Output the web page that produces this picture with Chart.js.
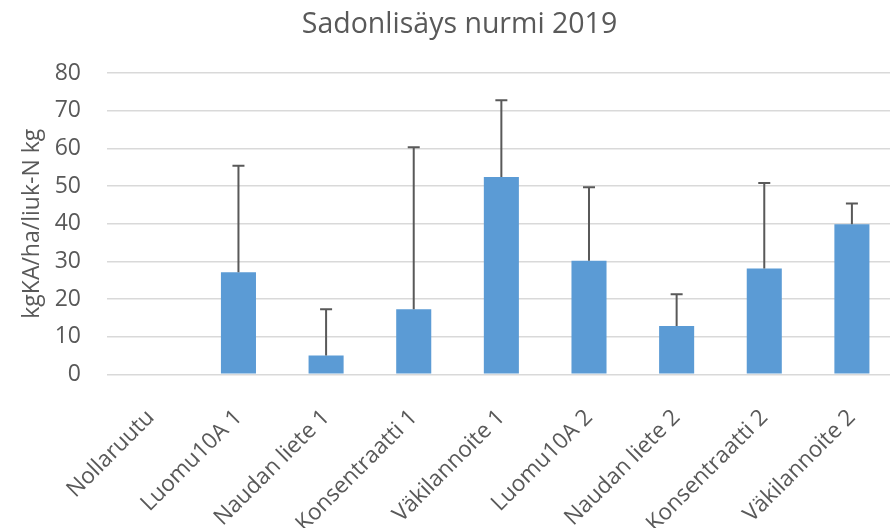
<!DOCTYPE html>
<html>
<head>
<meta charset="utf-8">
<script src="https://cdn.jsdelivr.net/npm/chart.js@4"></script>
<style>
html,body{margin:0;padding:0;background:#fff;overflow:hidden;}
#wrap{width:901px;height:528px;}
</style>
</head>
<body>
<div id="wrap"><canvas id="c" width="901" height="528"></canvas></div>
<script>
const categories = ["Nollaruutu","Luomu10A 1","Naudan liete 1","Konsentraatti 1","Väkilannoite 1","Luomu10A 2","Naudan liete 2","Konsentraatti 2","Väkilannoite 2"];
const values = [0, 27.1, 5.0, 17.3, 52.4, 30.2, 12.8, 28.1, 39.9];
const errorTops = [null, 55.4, 17.3, 60.3, 72.8, 49.7, 21.3, 50.8, 45.4];
const yTicks = [0,10,20,30,40,50,60,70,80];

const FONT = "'Open Sans', 'Liberation Sans', sans-serif";
const GREY = '#595959';

const errorBarPlugin = {
  id: 'errorBars',
  afterDatasetsDraw(chart) {
    const {ctx, scales: {x, y}} = chart;
    ctx.save();
    ctx.strokeStyle = GREY;
    ctx.lineWidth = 2;
    errorTops.forEach((top, i) => {
      if (top == null) return;
      const px = x.getPixelForValue(i);
      const y0 = y.getPixelForValue(values[i]);
      const y1 = y.getPixelForValue(top);
      ctx.beginPath();
      ctx.moveTo(px, y0);
      ctx.lineTo(px, y1);
      ctx.moveTo(px - 6, y1);
      ctx.lineTo(px + 6, y1);
      ctx.stroke();
    });
    ctx.restore();
  }
};

new Chart(document.getElementById('c'), {
  type: 'bar',
  data: {
    labels: categories,
    datasets: [{
      data: values,
      backgroundColor: '#5B9BD5',
      borderWidth: 0,
      categoryPercentage: 1.0,
      barPercentage: 0.4
    }]
  },
  options: {
    responsive: false,
    animation: false,
    devicePixelRatio: 1,
    layout: { padding: { left: 18, right: 0, top: 0, bottom: 0 } },
    plugins: {
      legend: { display: false },
      tooltip: { enabled: false },
      title: {
        display: true,
        text: 'Sadonlisäys nurmi 2019',
        color: GREY,
        font: { family: FONT, size: 28.5, weight: 'normal' },
        padding: { top: 8, bottom: 31 }
      }
    },
    scales: {
      x: {
        grid: { display: false, drawTicks: false },
        border: { display: false },
        ticks: {
          color: GREY,
          font: { family: FONT, size: 22.5 },
          maxRotation: 45,
          minRotation: 45,
          autoSkip: false,
          padding: 30
        },
        afterFit(s) { s.height = 153.7; }
      },
      y: {
        min: 0,
        max: 80,
        afterBuildTicks(s) { s.ticks = yTicks.map(v => ({ value: v })); },
        grid: { color: '#D9D9D9', lineWidth: 1.5, drawTicks: false },
        border: { display: false },
        ticks: {
          color: GREY,
          font: { family: FONT, size: 23 },
          padding: 26
        },
        title: {
          display: true,
          text: 'kgKA/ha/liuk-N kg',
          color: GREY,
          font: { family: FONT, size: 23, weight: 'normal' },
          padding: { top: 1, bottom: 0 }
        },
        afterFit(s) { s.width = 89; }
      }
    }
  },
  plugins: [errorBarPlugin]
});
</script>
</body>
</html>
